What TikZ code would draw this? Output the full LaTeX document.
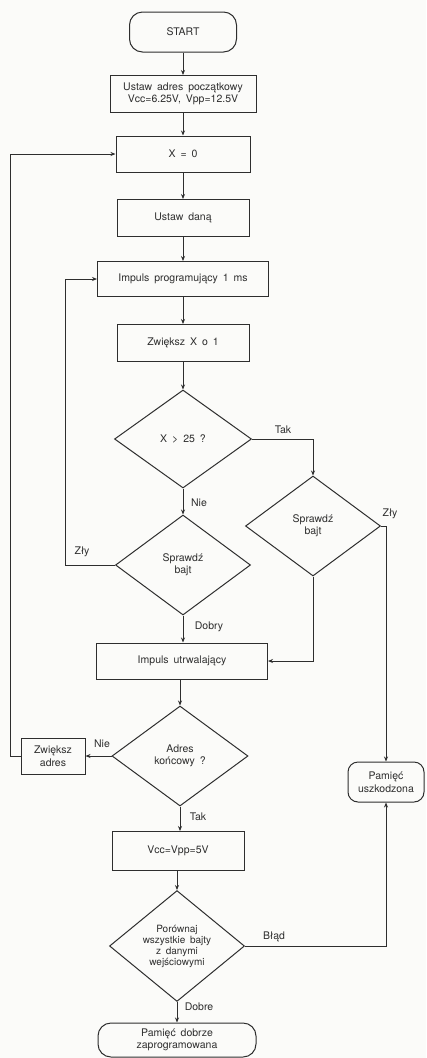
\documentclass[tikz,border=0pt]{standalone}
\usepackage{fontspec}
\setmainfont[WordSpace=1.7]{TeX Gyre Heros}
\usepackage{tikz}
\usetikzlibrary{arrows.meta,shapes.geometric}
\definecolor{tusz}{HTML}{2E2E2E}
\definecolor{papier}{HTML}{FBFBF9}
\tikzset{
  blok/.style={rectangle,draw=tusz,line width=1pt,inner sep=2pt,align=center,text=tusz,font=\fontsize{10.5}{12.5}\selectfont},
  granica/.style={blok,rounded corners=13pt},
  romb/.style={diamond,draw=tusz,line width=1pt,inner sep=0pt,align=center,text=tusz,font=\fontsize{10.5}{12}\selectfont},
  linia/.style={draw=tusz,line width=1pt,-{Stealth[length=5pt,width=4pt]}},
  opis/.style={text=tusz,inner sep=1pt,font=\fontsize{10.5}{12}\selectfont},
}

\begin{document}
\begin{tikzpicture}[x=1pt,y=-1pt]
\fill[papier] (0,0) rectangle (426,1058);
\useasboundingbox (0,0) rectangle (426,1058);
\coordinate (petla0) at (10,0);
\coordinate (petla1) at (65,0);
% glowna kolumna
\node[granica,minimum width=107,minimum height=40] (start) at (183,32) {START};
\node[blok,minimum width=146,minimum height=37] (adres) at (183,94) {Ustaw adres początkowy\\Vcc=6.25V, Vpp=12.5V};
\node[blok,minimum width=134,minimum height=36] (xzero) at (183,154) {X = 0};
\node[blok,minimum width=132,minimum height=37] (dana) at (183,218) {Ustaw daną};
\node[blok,minimum width=171,minimum height=35] (impuls) at (183,279) {Impuls programujący 1 ms};
\node[blok,minimum width=132,minimum height=37] (zwieksz) at (183,343) {Zwiększ X o 1};
\node[romb,minimum width=137,minimum height=98] (d1) at (183,439) {X > 25 ?};
\node[romb,minimum width=135,minimum height=100] (d2) at (313,526) {Sprawdź\\bajt};
\node[romb,minimum width=135,minimum height=100] (d3) at (183,565) {Sprawdź\\bajt};
\node[blok,minimum width=171,minimum height=36] (utrw) at (182,661) {Impuls utrwalający};
\node[romb,minimum width=136,minimum height=100] (d4) at (180,756) {Adres\\końcowy ?};
\node[blok,minimum width=64,minimum height=36] (zadres) at (53,756) {Zwiększ\\adres};
\node[granica,minimum width=76,minimum height=40,inner sep=0pt,rounded corners=10pt] (uszk) at (386,782) {Pamięć\\uszkodzona};
\node[blok,minimum width=132,minimum height=39] (vcc) at (178,851) {Vcc=Vpp=5V};
\node[romb,minimum width=135,minimum height=98,font=\fontsize{10}{11}\selectfont] (d5) at (177,946) {Porównaj\\wszystkie bajty\\z danymi\\wejściowymi};
\node[granica,minimum width=158,minimum height=34] (dobrze) at (177,1040) {Pamięć dobrze\\zaprogramowana};
% polaczenia
\draw[linia] (start) -- (adres);
\draw[linia] (adres) -- (xzero);
\draw[linia] (xzero) -- (dana);
\draw[linia] (dana) -- (impuls);
\draw[linia] (impuls) -- (zwieksz);
\draw[linia] (zwieksz) -- (d1);
\draw[linia] (d1.east) -| (d2.north);
\draw[linia] (d1) -- (d3);
\draw[linia] (d3.west) -- (d3.west -| petla1) |- (impuls.west);
\draw[linia] (d3) -- (d3.south |- utrw.north);
\draw[linia] (d2.south) |- (utrw.east);
\draw[linia] (d2.east) -| (uszk.north);
\draw[linia] (utrw.south -| d4.north) -- (d4);
\draw[linia] (d4.west) -- (zadres.east);
\draw[linia] (zadres.west) -- (zadres.west -| petla0) |- (xzero.west);
\draw[linia] (d4.south) -- (d4.south |- vcc.north);
\draw[linia] (vcc.south -| d5.north) -- (d5);
\draw[linia] (d5.east) -| (uszk.south);
\draw[linia] (d5) -- (dobrze);
% etykiety
\node[opis] (tak1) at (283,430) {Tak};
\node[opis] (nie1) at (199,503) {Nie};
\node[opis] (zly1) at (82,552) {Zły};
\node[opis] (zly2) at (390,514) {Zły};
\node[opis] (dobry) at (209,627) {Dobry};
\node[opis] (nie2) at (102,744) {Nie};
\node[opis] (tak2) at (198,817) {Tak};
\node[opis] (blad) at (274,937) {Błąd};
\node[opis] (dobre) at (199,1007) {Dobre};
\end{tikzpicture}
\end{document}
